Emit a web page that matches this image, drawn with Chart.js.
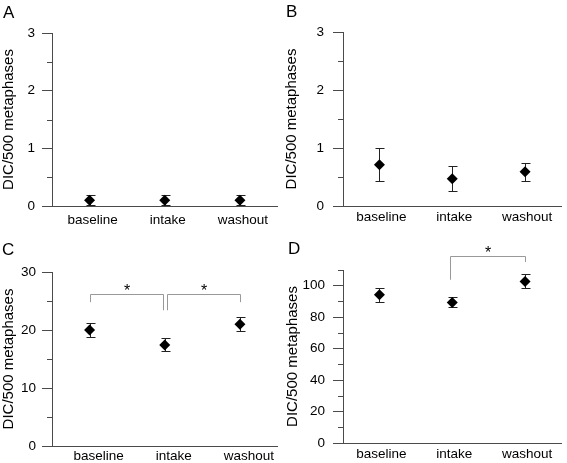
<!DOCTYPE html>
<html>
<head>
<meta charset="utf-8">
<script src="https://cdn.jsdelivr.net/npm/chart.js@4"></script>
<style>
  body { margin: 0; background: #fff; width: 567px; height: 463px; position: relative; overflow: hidden; font-family: 'Liberation Sans', Arial, sans-serif; }
  .panel { position: absolute; }
  .panel canvas { display: block; }
  .tag { position: absolute; font-size: 17px; line-height: 17px; color: #000; }
</style>
</head>
<body>
<div class="panel" style="left:0;top:0"><canvas id="chartA" width="283" height="231"></canvas></div>
<div class="panel" style="left:283px;top:0"><canvas id="chartB" width="284" height="231"></canvas></div>
<div class="panel" style="left:0;top:231px"><canvas id="chartC" width="283" height="232"></canvas></div>
<div class="panel" style="left:283px;top:231px"><canvas id="chartD" width="284" height="232"></canvas></div>
<div class="tag" style="left:3px;top:4px">A</div>
<div class="tag" style="left:286px;top:3px">B</div>
<div class="tag" style="left:2px;top:241px">C</div>
<div class="tag" style="left:288px;top:240px">D</div>
<script>
const categories = ['baseline', 'intake', 'washout'];

// mean with lower / upper error bar ends
const meanA = [0.1, 0.1, 0.1];
const lowA = [0.01, 0.01, 0.01];
const highA = [0.19, 0.19, 0.19];

const meanB = [0.71, 0.47, 0.59];
const lowB = [0.43, 0.26, 0.43];
const highB = [1.0, 0.69, 0.74];

const meanC = [20.0, 17.4, 21.0];
const lowC = [18.8, 16.3, 19.8];
const highC = [21.15, 18.6, 22.2];

const meanD = [94.3, 89.4, 102.7];
const lowD = [89.8, 86.7, 98.3];
const highD = [98.7, 92.6, 107.2];

// significance brackets: [from, to, bar level, left foot, right foot]
const bracketsC = [[0, 1, 26.2, 24.8, 23.4], [1, 2, 26.2, 23.4, 24.8]];
const bracketsD = [[1, 2, 118.6, 103.8, 115.1]];

const axisColor = '#4a4a4a';
const textColor = '#000';
const fontFamily = "'Liberation Sans', Arial, sans-serif";

// error bars, minor y ticks and brackets
const extras = {
  id: 'extras',
  beforeDatasetsDraw(chart) {
    const ds = chart.data.datasets[0];
    const meta = chart.getDatasetMeta(0);
    const y = chart.scales.y;
    const ctx = chart.ctx;
    ctx.save();
    ctx.strokeStyle = '#222';
    ctx.lineWidth = 1;
    meta.data.forEach((pt, i) => {
      const x = Math.round(pt.x) + 0.5;
      const top = Math.round(y.getPixelForValue(ds.errHigh[i])) + 0.5;
      const bot = Math.round(y.getPixelForValue(ds.errLow[i])) + 0.5;
      ctx.beginPath();
      ctx.moveTo(x, top); ctx.lineTo(x, bot);
      ctx.moveTo(x - 4, top); ctx.lineTo(x + 5, top);
      ctx.moveTo(x - 4, bot); ctx.lineTo(x + 5, bot);
      ctx.stroke();
    });
    ctx.restore();
  },
  afterDraw(chart, args, opts) {
    const ctx = chart.ctx;
    const x = chart.scales.x;
    const y = chart.scales.y;
    const left = chart.chartArea.left;
    ctx.save();
    // minor ticks halfway between labelled ticks
    const ticks = y.ticks;
    const step = ticks[1].value - ticks[0].value;
    ctx.strokeStyle = axisColor;
    ctx.lineWidth = 1;
    ctx.beginPath();
    for (let v = ticks[0].value + step / 2; v <= y.max + 1e-9; v += step) {
      const py = Math.round(y.getPixelForValue(v)) + 0.5;
      ctx.moveTo(left - 5, py);
      ctx.lineTo(left, py);
    }
    ctx.stroke();
    // brackets with stars
    (opts.list || []).forEach((b, i) => {
      const nudge = opts.nudges[i];
      const x1 = Math.round(x.getPixelForValue(b[0]) + nudge[0]) + 0.5;
      const x2 = Math.round(x.getPixelForValue(b[1]) + nudge[1]) + 0.5;
      const yb = Math.round(y.getPixelForValue(b[2])) + 0.5;
      ctx.strokeStyle = '#999';
      ctx.beginPath();
      ctx.moveTo(x1, y.getPixelForValue(b[3]));
      ctx.lineTo(x1, yb);
      ctx.lineTo(x2, yb);
      ctx.lineTo(x2, y.getPixelForValue(b[4]));
      ctx.stroke();
      ctx.fillStyle = textColor;
      ctx.font = '16px ' + fontFamily;
      ctx.textAlign = 'center';
      ctx.textBaseline = 'alphabetic';
      ctx.fillText('*', (x1 + x2) / 2, yb + 1);
    });
    ctx.restore();
  }
};

function makePanel(id, means, low, high, yMax, yStep, geo, brackets, nudges) {
  return new Chart(document.getElementById(id), {
    type: 'line',
    data: {
      labels: categories,
      datasets: [{
        data: means,
        errLow: low,
        errHigh: high,
        showLine: false,
        pointStyle: 'rectRot',
        pointRadius: 5.5,
        pointHoverRadius: 5.5,
        pointBackgroundColor: '#000',
        pointBorderColor: '#000',
        pointBorderWidth: 0
      }]
    },
    options: {
      responsive: false,
      animation: false,
      events: [],
      layout: { padding: { top: geo.top, right: geo.right, left: 0, bottom: 0 } },
      plugins: {
        legend: { display: false },
        tooltip: { enabled: false },
        extras: { list: brackets, nudges: nudges }
      },
      scales: {
        x: {
          offset: true,
          grid: { display: false, drawTicks: false },
          border: { color: axisColor },
          ticks: {
            color: textColor,
            font: { family: fontFamily, size: 13.5 },
            padding: geo.labelPad,
            labelOffset: geo.labelShift,
            maxRotation: 0,
            autoSkip: false
          },
          afterFit: s => { s.height = geo.xh; }
        },
        y: {
          min: 0,
          max: yMax,
          ticks: {
            stepSize: yStep,
            includeBounds: false,
            color: textColor,
            font: { family: fontFamily, size: 13.5 },
            padding: geo.tickPad
          },
          grid: { drawOnChartArea: false, tickLength: 10, color: axisColor },
          border: { color: axisColor },
          title: {
            display: true,
            text: 'DIC/500 metaphases',
            color: textColor,
            font: { family: fontFamily, size: 15 },
            padding: geo.titlePad
          },
          afterFit: s => { s.width = geo.yw; }
        }
      }
    },
    plugins: [extras]
  });
}

makePanel('chartA', meanA, lowA, highA, 3, 1,
  { top: 33, right: 5, yw: 52, xh: 25, labelPad: 6, labelShift: 3, tickPad: 7, titlePad: 0 }, [], []);
makePanel('chartB', meanB, lowB, highB, 3, 1,
  { top: 32, right: 2, yw: 60, xh: 25, labelPad: 3, labelShift: 2, tickPad: 9, titlePad: 0 }, [], []);
makePanel('chartC', meanC, lowC, highC, 30, 10,
  { top: 41, right: 5, yw: 52, xh: 17, labelPad: 2, labelShift: 9, tickPad: 6, titlePad: 0 }, bracketsC, [[0, -2], [2, 0]]);
makePanel('chartD', meanD, lowD, highD, 110, 20,
  { top: 39, right: 2, yw: 60, xh: 20, labelPad: 3, labelShift: 2, tickPad: 8, titlePad: 1 }, bracketsD, [[-2, 0]]);
</script>
</body>
</html>
